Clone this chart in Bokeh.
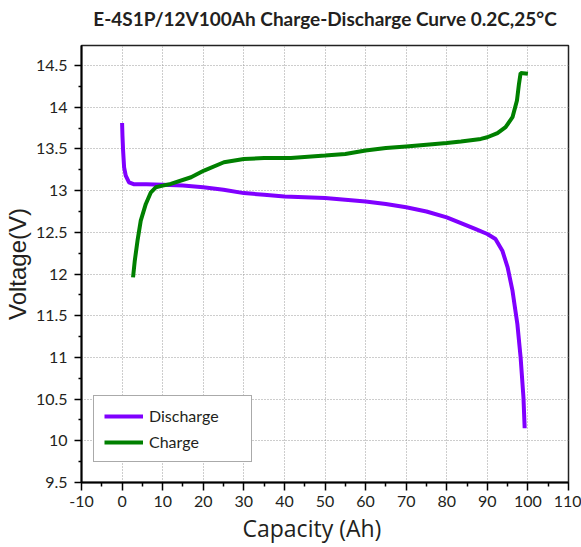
from bokeh.plotting import figure
from bokeh.models import FixedTicker, Range1d, Title
from bokeh.embed import file_html
from bokeh.resources import INLINE

title_text = "E-4S1P/12V100Ah Charge-Discharge Curve 0.2C,25°C"
x_label = "Capacity (Ah)"
y_label = "Voltage(V)"

x_ticks = [-10, 0, 10, 20, 30, 40, 50, 60, 70, 80, 90, 100, 110]
x_tick_labels = ["-10", "0", "10", "20", "30", "40", "50", "60", "70", "80", "90", "100", "110"]
x_minor_ticks = [-5, 5, 15, 25, 35, 45, 55, 65, 75, 85, 95, 105]
y_ticks = [9.5, 10, 10.5, 11, 11.5, 12, 12.5, 13, 13.5, 14, 14.5]
y_tick_labels = ["9.5", "10", "10.5", "11", "11.5", "12", "12.5", "13", "13.5", "14", "14.5"]
y_minor_ticks = [9.75, 10.25, 10.75, 11.25, 11.75, 12.25, 12.75, 13.25, 13.75, 14.25, 14.75]

discharge_cap = [0, 0.1, 0.25, 0.5, 0.9, 1.7, 3, 4, 6, 10, 15, 20, 25, 30, 35, 40, 45, 50,
                 55, 60, 65, 70, 75, 80, 83.5, 87, 90, 92, 93.7, 95, 96.2, 97.4, 98.2, 98.9, 99.2]
discharge_v = [13.81, 13.65, 13.48, 13.28, 13.18, 13.10, 13.075, 13.075, 13.075, 13.07, 13.06,
               13.04, 13.01, 12.97, 12.95, 12.93, 12.92, 12.91, 12.89, 12.87, 12.84, 12.80,
               12.75, 12.68, 12.61, 12.54, 12.48, 12.42, 12.28, 12.08, 11.80, 11.40, 11.00,
               10.52, 10.15]

charge_cap = [2.7, 3.13, 3.8, 4.6, 5.85, 7.1, 8.3, 10, 12, 17, 20.2, 25.1, 30, 35, 41.6, 50,
              55, 60, 65, 70, 75, 80, 83.5, 88.4, 90, 92.5, 94.5, 96.2, 97.3, 97.8, 98.2, 100]
charge_v = [11.96, 12.16, 12.40, 12.64, 12.84, 12.98, 13.04, 13.06, 13.08, 13.16, 13.24, 13.34,
            13.38, 13.39, 13.39, 13.42, 13.44, 13.48, 13.51, 13.53, 13.55, 13.57, 13.59, 13.62,
            13.64, 13.69, 13.76, 13.88, 14.08, 14.28, 14.41, 14.40]

text_color = "#231f20"

p = figure(width=581, height=547, title=None,
           x_range=Range1d(-10, 110), y_range=Range1d(9.5, 14.74),
           output_backend="svg", toolbar_location=None,
           min_border_left=81, min_border_right=13, min_border_top=45, min_border_bottom=65)

# thin spacer next to the frame, then the real title above it
p.add_layout(Title(text=" ", text_font_size="1px", standoff=6), "above")
p.add_layout(Title(text=title_text, text_font="Lato", text_font_style="bold",
                   text_font_size="19px", text_color=text_color, align="center",
                   vertical_align="top", standoff=10), "above")

# x axis title, placed under the tick labels
p.add_layout(Title(text=x_label, text_font="Open Sans", text_font_style="normal",
                   text_font_size="23px", text_color=text_color, align="left",
                   offset=161, vertical_align="bottom", standoff=0), "below")

p.outline_line_color = "#222222"
p.outline_line_width = 1.5

p.xaxis.ticker = FixedTicker(ticks=x_ticks, minor_ticks=x_minor_ticks)
p.yaxis.ticker = FixedTicker(ticks=y_ticks, minor_ticks=y_minor_ticks)
p.xaxis.major_label_overrides = {t: l for t, l in zip(x_ticks, x_tick_labels)}
p.yaxis.major_label_overrides = {t: l for t, l in zip(y_ticks, y_tick_labels)}

for ax in (p.xaxis[0], p.yaxis[0]):
    ax.axis_line_color = "black"
    ax.axis_line_width = 2
    ax.major_tick_line_color = "black"
    ax.major_tick_line_width = 1.5
    ax.minor_tick_line_color = "black"
    ax.minor_tick_line_width = 1.5
    ax.major_tick_in = 0
    ax.minor_tick_in = 0
    ax.major_label_text_font = "Lato"
    ax.major_label_text_font_size = "16px"
    ax.major_label_text_color = text_color
    ax.axis_label_text_font_style = "normal"
    ax.axis_label_text_color = text_color

p.yaxis.major_tick_out = 7
p.yaxis.minor_tick_out = 3
p.yaxis.major_label_standoff = 7
p.yaxis.axis_label = y_label
p.yaxis.axis_label_text_font = "Liberation Sans"
p.yaxis.axis_label_text_font_size = "24px"
p.yaxis.axis_label_standoff = 2

p.xaxis.major_tick_out = 8
p.xaxis.minor_tick_out = 4
p.xaxis.major_label_standoff = 5

p.xgrid.grid_line_color = "#9a9a9a"
p.ygrid.grid_line_color = "#9a9a9a"
p.xgrid.grid_line_dash = "1 2"
p.ygrid.grid_line_dash = "1 2"
p.xgrid.grid_line_width = 1
p.ygrid.grid_line_width = 1

p.line(discharge_cap, discharge_v, line_color="#8000ff", line_width=4, legend_label="Discharge")
p.line(charge_cap, charge_v, line_color="#008000", line_width=4, legend_label="Charge")

lg = p.legend[0]
lg.location = (12, 20)
lg.margin = 0
lg.padding = 10
lg.spacing = 7
lg.glyph_width = 39
lg.glyph_height = 14
lg.label_height = 14
lg.label_width = 92
lg.label_standoff = 6
lg.label_text_font = "Lato"
lg.label_text_font_size = "16px"
lg.label_text_color = text_color
lg.border_line_color = "#555555"
lg.border_line_width = 1
lg.background_fill_color = "white"
lg.background_fill_alpha = 1

open("out.html", "w").write(file_html(p, INLINE))
